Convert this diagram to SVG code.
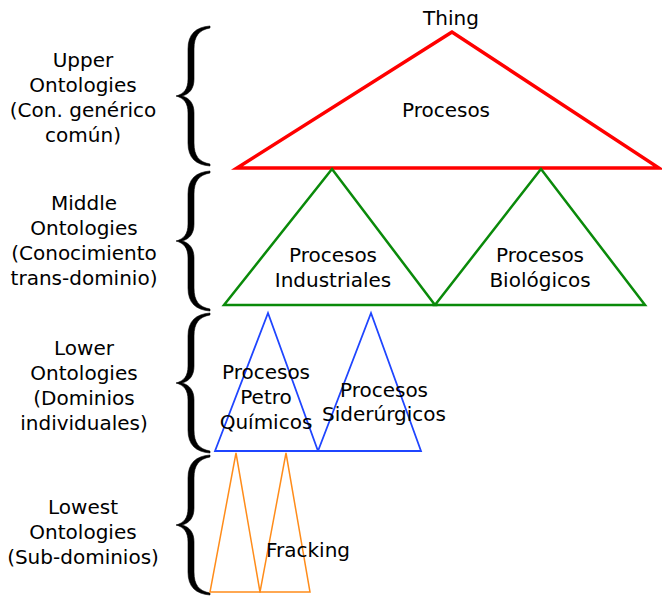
<svg xmlns="http://www.w3.org/2000/svg" xmlns:xlink="http://www.w3.org/1999/xlink" width="662" height="597" viewBox="0 0 662 597">
<style>
text{font-family:"DejaVu Sans","Liberation Sans",sans-serif;font-size:20px;fill:#000;text-anchor:middle}
.brace{fill:#000;stroke:#000;stroke-width:0.6}
.red{fill:none;stroke:#ff0000;stroke-width:3.5;stroke-linejoin:miter}
.green{fill:none;stroke:#0a8a0a;stroke-width:2.5}
.blue{fill:none;stroke:#1f45ff;stroke-width:1.8}
.orange{fill:none;stroke:#ff8c1a;stroke-width:1.5}
</style>
<defs>
<path id="brace" d="M34,-1 C20,0 12,7 12,22 L12,52 C12,62 8,67 0,69 C8,71 12,76 12,86 L12,116 C12,131 20,138 34,139 L34,137 C23,135 18,129 18,116 L18,86 C18,77 14,71 6,69 C14,67 18,61 18,52 L18,22 C18,9 23,3 34,1 Z"/>
</defs>
<rect width="662" height="597" fill="#fff"/>
<g id="levels">
<g id="upper">
<use xlink:href="#brace" class="brace" x="176" y="27"/>
<text x="83" y="67">Upper</text><text x="83" y="92">Ontologies</text><text x="83" y="117">(Con. genérico</text><text x="83" y="142">común)</text>
</g>
<g id="middle">
<use xlink:href="#brace" class="brace" x="176" y="172"/>
<text x="84" y="210">Middle</text><text x="84" y="235">Ontologies</text><text x="84" y="260">(Conocimiento</text><text x="84" y="285">trans-dominio)</text>
</g>
<g id="lower">
<use xlink:href="#brace" class="brace" x="176" y="314"/>
<text x="84" y="355">Lower</text><text x="84" y="380">Ontologies</text><text x="84" y="405">(Dominios</text><text x="84" y="430">individuales)</text>
</g>
<g id="lowest">
<use xlink:href="#brace" class="brace" x="176" y="456"/>
<text x="83" y="514">Lowest</text><text x="83" y="539">Ontologies</text><text x="83" y="564">(Sub-dominios)</text>
</g>
</g>
<g id="procesos">
<polygon class="red" points="452,32 237,168 659,168"/>
<text x="451" y="25">Thing</text>
<text x="446" y="117">Procesos</text>
</g>
<g id="industriales">
<polygon class="green" points="332,169 224,305 435,305"/>
<text x="333" y="262">Procesos</text><text x="333" y="287">Industriales</text>
</g>
<g id="biologicos">
<polygon class="green" points="541,169 435,305 645,305"/>
<text x="540" y="262">Procesos</text><text x="540" y="287">Biológicos</text>
</g>
<g id="petroquimicos">
<polygon class="blue" points="268,313 215,451 318,451"/>
<text x="266" y="379">Procesos</text><text x="266" y="404">Petro</text><text x="266" y="429">Químicos</text>
</g>
<g id="siderurgicos">
<polygon class="blue" points="371,313 318,451 421,451"/>
<text x="384" y="397">Procesos</text><text x="384" y="421">Siderúrgicos</text>
</g>
<g id="sub1">
<polygon class="orange" points="236,453 210,592 260,592"/>
</g>
<g id="fracking">
<polygon class="orange" points="286,453 260,592 310,592"/>
<text x="308" y="557">Fracking</text>
</g>
<g id="connectors"></g>
</svg>
